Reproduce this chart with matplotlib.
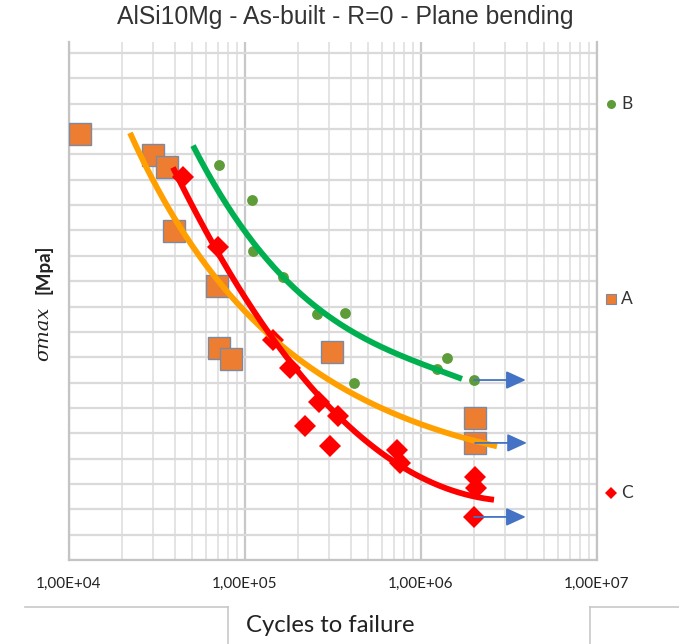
import numpy as np
import matplotlib
matplotlib.use('Agg')
import matplotlib.pyplot as plt
from matplotlib.lines import Line2D
from matplotlib.ticker import LogLocator, FuncFormatter, NullFormatter, MultipleLocator

# data (y in grid units, bottom of axis = 0)
b_cycles = [7.1e4, 1.10e5, 1.11e5, 1.64e5, 2.56e5, 3.70e5, 4.16e5, 1.23e6, 1.41e6]
b_stress = [15.6, 14.2, 12.2, 11.15, 9.7, 9.75, 7.0, 7.55, 7.95]
b_runout_cycles = [2.0e6]
b_runout_stress = [7.1]

a_cycles = [1.155e4, 3.0e4, 3.6e4, 3.95e4, 6.93e4, 7.11e4, 8.32e4, 3.12e5, 2.03e6]
a_stress = [16.8, 15.98, 15.5, 12.98, 10.81, 8.36, 7.93, 8.21, 5.6]
a_runout_cycles = [2.03e6]
a_runout_stress = [4.62]

c_cycles = [4.45e4, 7.03e4, 1.44e5, 1.80e5, 2.63e5, 3.37e5, 2.19e5, 3.04e5, 7.31e5, 7.6e5, 2.03e6, 2.05e6]
c_stress = [15.11, 12.35, 8.68, 7.57, 6.23, 5.68, 5.29, 4.5, 4.34, 3.83, 3.27, 2.84]
c_runout_cycles = [2.0e6]
c_runout_stress = [1.7]

# points
b_curve_cycles = [5.065e4, 1.186e5, 1.644e5, 3.041e5, 5.848e5, 1.125e6, 1.710e6]
b_curve_stress = [16.37, 12.23, 11.12, 9.74, 8.36, 7.57, 7.18]
a_curve_cycles = [2.222e4, 4.561e4, 8.216e4, 1.443e5, 2.251e5, 3.797e5, 5.848e5, 1.125e6, 1.666e6, 2.703e6]
a_curve_stress = [16.13, 13.41, 10.77, 8.95, 7.50, 6.51, 5.92, 5.21, 4.85, 4.58]
c_curve_cycles = [3.898e4, 7.024e4, 1.068e5, 1.443e5, 1.802e5, 2.634e5, 3.466e5, 5.848e5, 1.125e6, 2.080e6, 2.599e6]
c_curve_stress = [15.31, 12.35, 10.34, 8.76, 7.57, 6.23, 5.48, 4.38, 3.31, 2.52, 2.25]


def trend(n, s, deg=3, log_y=False):
    lx = np.log10(n)
    yy = np.log(s) if log_y else np.asarray(s)
    coef = np.polyfit(lx, yy, deg)
    xx = np.linspace(lx.min(), lx.max(), 200)
    out = np.polyval(coef, xx)
    return 10 ** xx, (np.exp(out) if log_y else out)


fig = plt.figure(figsize=(6.79, 6.44), dpi=100)
ax = fig.add_axes([0.1016, 0.1304, 0.7776, 0.805])
ax.set_xscale('log')
ax.set_xlim(1e4, 1e7)
ax.set_ylim(0, 20.45)

# grid
ax.xaxis.set_major_locator(LogLocator(base=10, numticks=10))
ax.xaxis.set_minor_locator(LogLocator(base=10, subs=np.arange(2, 10), numticks=10))
ax.xaxis.set_minor_formatter(NullFormatter())
ax.xaxis.set_major_formatter(FuncFormatter(lambda v, p: f"{v:.2E}".replace('.', ',')))
ax.yaxis.set_major_locator(MultipleLocator(1))
ax.set_yticklabels([])
ax.grid(which='major', axis='x', color='#c8c8c8', lw=1.6)
ax.grid(which='minor', axis='x', color='#e2e2e2', lw=1.3)
ax.grid(which='major', axis='y', color='#dadada', lw=1.6)
ax.set_axisbelow(True)
ax.tick_params(which='both', length=0)
ax.tick_params(axis='x', pad=12, labelsize=11, labelcolor='#222222')
for lab in ax.get_xticklabels():
    lab.set_family('Lato')
ax.spines['top'].set_visible(False)
for side in ['left', 'bottom', 'right']:
    ax.spines[side].set_color('#c4c4c4')
    ax.spines[side].set_linewidth(1.6)

green_pt = '#5e9c3a'
orange_pt = '#ed7d31'
red_pt = '#ff0000'

ax.plot(b_cycles + b_runout_cycles, b_stress + b_runout_stress, 'o', color=green_pt, ms=7.8, mew=0, zorder=3)
ax.plot(a_cycles + a_runout_cycles, a_stress + a_runout_stress, 's', color=orange_pt, ms=16.5,
        mec='#7b8aa0', mew=1.0, zorder=3)
ax.plot(c_cycles + c_runout_cycles, c_stress + c_runout_stress, 'D', color=red_pt, ms=11, mew=0, zorder=3)

nn, ss = trend(a_curve_cycles, a_curve_stress, deg=2, log_y=True)
ax.plot(nn, ss, color='#ffa000', lw=4.2, solid_capstyle='butt', zorder=4)
nn, ss = trend(c_curve_cycles, c_curve_stress)
ax.plot(nn, ss, color='#ff0000', lw=4.2, solid_capstyle='butt', zorder=4)
nn, ss = trend(b_curve_cycles, b_curve_stress)
ax.plot(nn, ss, color='#00b050', lw=4.2, solid_capstyle='butt', zorder=4)

# run-out arrows
for n, s in zip(b_runout_cycles + a_runout_cycles + c_runout_cycles,
                b_runout_stress + a_runout_stress + c_runout_stress):
    ax.annotate('', xy=(n * 1.97, s), xytext=(n, s),
                arrowprops=dict(arrowstyle='-|>,head_length=1.2,head_width=0.55',
                                color='#4472c4', lw=1.3, shrinkA=0, shrinkB=0),
                zorder=5)

# title
fig.text(0.508, 0.974, 'AlSi10Mg - As-built - R=0 - Plane bending', ha='center', va='center',
         fontsize=17.8, family='Liberation Sans', color='#333333')

# y label
fig.text(0.064, 0.481, 'σmax', rotation=90, ha='center', va='center', fontsize=14,
         family='DejaVu Serif', style='italic', color='#222222')
fig.text(0.064, 0.582, '[Mpa]', rotation=90, ha='center', va='center', fontsize=13.5,
         family='Lato', weight='bold', color='#222222')

# legend
legend_items = [('B', 'o', green_pt, 0.8385, 6.5, None),
                ('A', 's', orange_pt, 0.5357, 7.5, '#7b8aa0'),
                ('C', 'D', red_pt, 0.2345, 6.0, None)]
for name, mk, col, yy, ms, ec in legend_items:
    fig.add_artist(Line2D([0.9], [yy], marker=mk, color=col, ms=ms,
                          mec=ec if ec else col, mew=0.8 if ec else 0,
                          transform=fig.transFigure))
    fig.text(0.9146, yy, name, ha='left', va='center', fontsize=12.5, family='Lato', color='#333333')

# x label frame
frame = '#c8c8c8'
fig.add_artist(Line2D([0.037, 0.3358], [0.0575, 0.0575], color=frame, lw=1.2, transform=fig.transFigure))
fig.add_artist(Line2D([0.3358, 0.3358], [0.0575, 0.0], color=frame, lw=1.2, transform=fig.transFigure))
fig.add_artist(Line2D([0.869, 0.869], [0.0575, 0.0], color=frame, lw=1.2, transform=fig.transFigure))
fig.add_artist(Line2D([0.869, 1.0], [0.0575, 0.0575], color=frame, lw=1.2, transform=fig.transFigure))
fig.text(0.486, 0.028, 'Cycles to failure', ha='center', va='center', fontsize=17.2,
         family='Lato', color='#222222')

fig.savefig('out.png', dpi=100)
